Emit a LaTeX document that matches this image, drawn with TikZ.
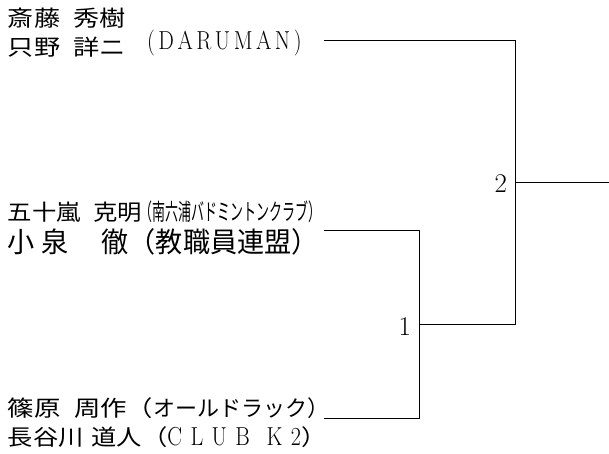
\documentclass[tikz,border=0pt]{standalone}
\usepackage{fontspec}
\setmainfont{Latin Modern Roman}
\newfontfamily\cjk{Noto Sans CJK JP}
\usepackage{graphicx}
\newcommand{\rp}{\makebox[0.4em][l]{）}}
\newcommand{\lp}{\makebox[0.4em][r]{（}}
\newcommand{\fs}[1]{\fontsize{#1}{#1}\selectfont}
\tikzset{
  txt/.style={anchor=base west, inner sep=0pt, outer sep=0pt},
  bracket/.style={line width=1pt, black},
  num/.style={anchor=base east, inner sep=0pt, outer sep=0pt, font=\fontsize{27}{27}\selectfont},
}
\begin{document}
\begin{tikzpicture}[x=1pt,y=-1pt]
\useasboundingbox (0,0) rectangle (609,454);
\fill[white] (0,0) rectangle (609,454);

% entries
\node[txt] (n1a) at (8,26.7) {\scalebox{1.19}[1]{\cjk\fs{22}斎藤\hspace{0.5em}秀樹}};
\node[txt] (n1b) at (8,55.7) {\scalebox{1.19}[1]{\cjk\fs{22}只野\hspace{0.5em}詳ニ}};
\node[txt] (a1) at (147,50) {\scalebox{0.85}[1]{\fs{26}(\hspace{0.16em}D\hspace{0.16em}A\hspace{0.16em}R\hspace{0.16em}U\hspace{0.16em}M\hspace{0.16em}A\hspace{0.16em}N\hspace{0.16em})}};

\node[txt] (n2a) at (8,220.7) {\scalebox{1.107}[1]{\cjk\fs{22}五十嵐\hspace{0.5em}克明}};
\node[txt] (a2a) at (147,220.6) {\scalebox{0.564}[1]{\cjk\fs{23}\lp 南六浦バドミントンクラブ\rp}};
\node[txt] (n2b) at (8,252.3) {\scalebox{0.97}[1]{\cjk\fs{28}小\hspace{0.25em}泉\hspace{1.2em}徹（教職員連盟\rp}};

\node[txt] (n3a) at (8,416.7) {\scalebox{1.2}[1]{\cjk\fs{22}篠原\hspace{0.5em}周作（}\scalebox{1.0}[1]{\cjk\fs{22}オールドラック\rp}};
\node[txt] (n3b) at (8,445.7) {\scalebox{1.15}[1]{\cjk\fs{22}長谷川\hspace{0.3em}道人（}\scalebox{0.85}[1]{\fs{26}C\hspace{0.38em}L\hspace{0.38em}U\hspace{0.38em}B\hspace{0.76em}K\hspace{0.38em}2}\scalebox{1.15}[1]{\cjk\fs{22}\rp}};

% bracket
\coordinate (p1) at (324,41);
\coordinate (p2) at (324,230);
\coordinate (p3) at (324,418);
\coordinate (m1) at (419,324);
\coordinate (m2) at (515,183);
\coordinate (w) at (609,183);
\draw[bracket] (p1) -| (m2);
\draw[bracket] (p2) -| (m1);
\draw[bracket] (p3) -| (m1);
\draw[bracket] (m1) -| (m2);
\draw[bracket] (m2) -- (w);

\node[num] (l2) at (507,193) {2};
\node[num] (l1) at (411,335) {1};
\end{tikzpicture}
\end{document}
